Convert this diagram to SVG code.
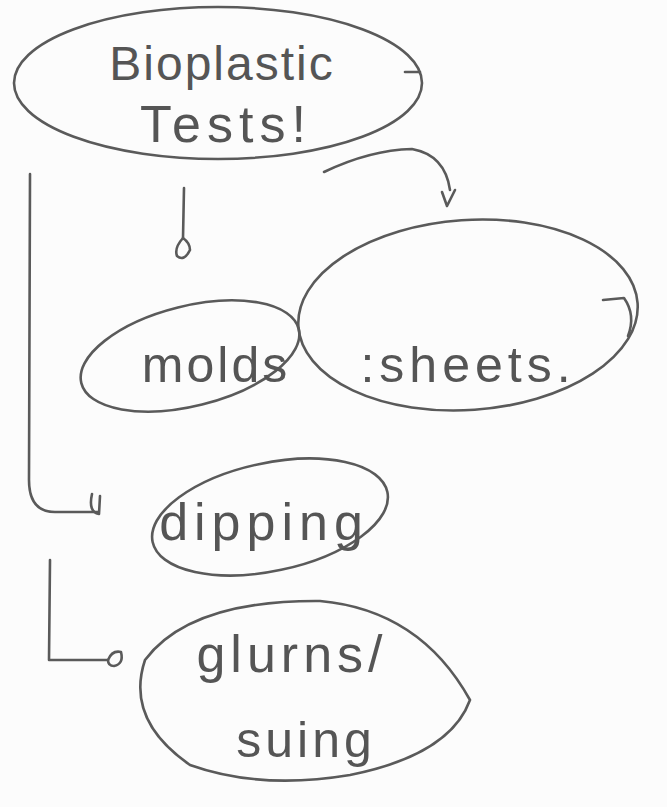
<svg xmlns="http://www.w3.org/2000/svg" width="667" height="807" viewBox="0 0 667 807">
<style>
.s{fill:none;stroke:#5a5a5a;stroke-width:2.6;stroke-linecap:round;stroke-linejoin:round}
.t{font-family:"Liberation Sans","DejaVu Sans",sans-serif;fill:#555;font-weight:300}
</style>
<rect width="667" height="807" fill="#fcfcfc"/>
<g id="connectors">
<path class="s" d="M30,174 L29,480 Q29,512 55,512 L98,512"/>
<path class="s" d="M92,494 Q88,512 99,514 L100,496"/>
<path class="s" d="M184,188 L183,238"/>
<path class="s" d="M183,238 Q174,248 177,256 Q184,262 190,250 Q190,243 183,238"/>
<path class="s" d="M324,172 Q370,150 412,149 Q445,155 450,190"/>
<path class="s" d="M442,192 L447,206 L455,190"/>
<path class="s" d="M50,560 L49,660 L108,660"/>
<path class="s" d="M108,660 Q112,650 121,652 Q124,664 114,666 Q108,666 108,660"/>
</g>
<g id="node-tests">
<ellipse class="s" cx="218" cy="83" rx="204" ry="76"/>
<path class="s" d="M405,72 L420,72"/>
<text class="t" x="222" y="80" font-size="48" letter-spacing="2" text-anchor="middle">Bioplastic</text>
<text class="t" x="226" y="142" font-size="52" letter-spacing="6" text-anchor="middle">Tests!</text>
</g>
<g id="node-molds">
<ellipse class="s" cx="190" cy="356" rx="112" ry="50" transform="rotate(-14 190 356)"/>
<text class="t" x="216" y="382" font-size="50" letter-spacing="3" text-anchor="middle">molds</text>
</g>
<g id="node-sheets">
<ellipse class="s" cx="468" cy="315" rx="170" ry="95" transform="rotate(-4 468 315)"/>
<path class="s" d="M603,300 L624,298 Q636,315 628,336"/>
<text class="t" x="468" y="382" font-size="50" letter-spacing="5" text-anchor="middle">:sheets.</text>
</g>
<g id="node-dipping">
<ellipse class="s" cx="270" cy="517" rx="120" ry="54" transform="rotate(-12 270 517)"/>
<text class="t" x="264" y="540" font-size="52" letter-spacing="6" text-anchor="middle">dipping</text>
</g>
<g id="node-gluing">
<path class="s" d="M470,700 Q420,610 320,601 Q190,600 145,660 Q125,720 190,765 Q260,790 350,775 Q450,755 470,700"/>
<text class="t" x="292" y="672" font-size="52" letter-spacing="5" text-anchor="middle">glurns/</text>
<text class="t" x="306" y="757" font-size="50" letter-spacing="4" text-anchor="middle">suing</text>
</g>
</svg>
